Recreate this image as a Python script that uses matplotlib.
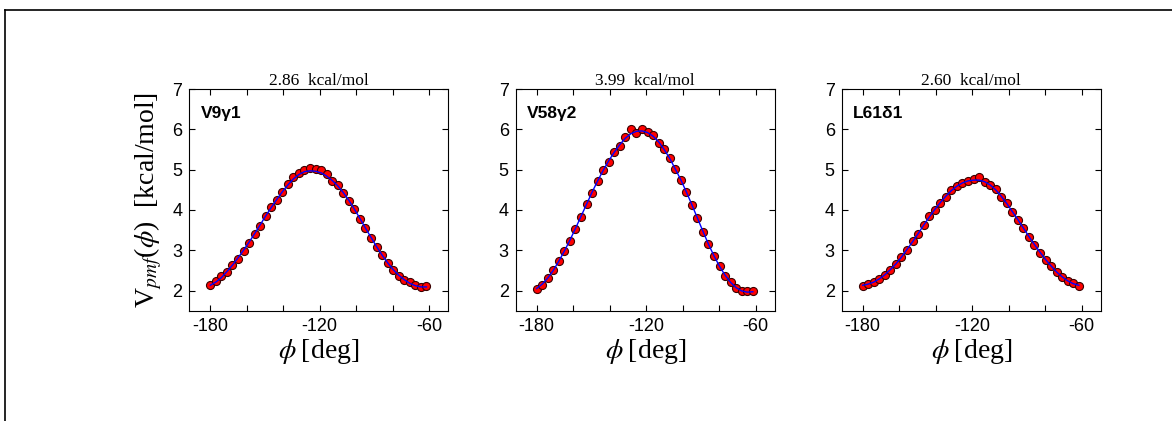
import numpy as np
import matplotlib.pyplot as plt
from matplotlib.lines import Line2D
from matplotlib.ticker import MultipleLocator, FixedLocator

plt.rcParams['mathtext.fontset'] = 'stix'
plt.rcParams['axes.unicode_minus'] = False

# angoli del diedro (40 punti tra -180 e circa -61.5 gradi)
phi = np.linspace(-180, -61.5, 40)

etichette = ['V9\u03b31', 'V58\u03b32', 'L61\u03b41']
barriere = ['2.86', '3.99', '2.60']

# PMF calcolata (punti rossi)
pmf_v9 = [2.14, 2.24, 2.35, 2.46, 2.64, 2.79, 2.99, 3.19, 3.41, 3.61,
          3.85, 4.07, 4.25, 4.45, 4.64, 4.81, 4.91, 4.98, 5.03, 5.01,
          4.98, 4.89, 4.72, 4.62, 4.43, 4.23, 4.02, 3.77, 3.54, 3.31,
          3.09, 2.87, 2.68, 2.51, 2.37, 2.27, 2.20, 2.14, 2.09, 2.11]
pmf_v58 = [2.03, 2.14, 2.31, 2.50, 2.74, 2.98, 3.24, 3.52, 3.82, 4.15,
           4.43, 4.72, 4.98, 5.20, 5.43, 5.59, 5.80, 6.00, 5.92, 6.02,
           5.94, 5.85, 5.67, 5.50, 5.30, 5.02, 4.74, 4.44, 4.12, 3.79,
           3.46, 3.15, 2.86, 2.61, 2.37, 2.20, 2.07, 1.99, 1.98, 1.99]
pmf_l61 = [2.12, 2.16, 2.21, 2.29, 2.39, 2.51, 2.65, 2.83, 3.01, 3.22,
           3.41, 3.62, 3.84, 4.00, 4.18, 4.33, 4.50, 4.60, 4.68, 4.73,
           4.76, 4.81, 4.70, 4.62, 4.52, 4.33, 4.17, 3.96, 3.75, 3.55,
           3.34, 3.13, 2.94, 2.76, 2.60, 2.45, 2.33, 2.24, 2.18, 2.12]

# curve di fit (linea blu)
fit_v9 = [2.13, 2.21, 2.32, 2.47, 2.63, 2.81, 3.00, 3.20, 3.41, 3.63,
          3.85, 4.06, 4.26, 4.45, 4.62, 4.77, 4.88, 4.95, 4.97, 4.96,
          4.92, 4.84, 4.73, 4.60, 4.43, 4.24, 4.02, 3.79, 3.55, 3.32,
          3.09, 2.88, 2.69, 2.52, 2.38, 2.27, 2.18, 2.12, 2.09, 2.09]
fit_v58 = [2.05, 2.16, 2.31, 2.50, 2.73, 2.98, 3.25, 3.54, 3.84, 4.14,
           4.44, 4.72, 4.98, 5.22, 5.43, 5.62, 5.78, 5.89, 5.95, 5.96,
           5.92, 5.83, 5.69, 5.50, 5.28, 5.02, 4.75, 4.45, 4.13, 3.80,
           3.47, 3.15, 2.86, 2.60, 2.38, 2.20, 2.07, 1.99, 1.96, 1.97]
fit_l61 = [2.13, 2.16, 2.21, 2.29, 2.39, 2.52, 2.66, 2.83, 3.02, 3.21,
           3.41, 3.62, 3.82, 4.01, 4.18, 4.34, 4.48, 4.59, 4.67, 4.72,
           4.74, 4.74, 4.70, 4.62, 4.50, 4.34, 4.16, 3.96, 3.76, 3.55,
           3.34, 3.14, 2.95, 2.77, 2.61, 2.46, 2.34, 2.24, 2.17, 2.13]

punti = [pmf_v9, pmf_v58, pmf_l61]
fit = [fit_v9, fit_v58, fit_l61]

sans = ['Liberation Sans', 'DejaVu Sans']
serif = ['Liberation Serif', 'DejaVu Serif']

fig = plt.figure(figsize=(11.72, 4.21), dpi=100)

# cornice parziale (solo lato alto e sinistro)
fig.add_artist(Line2D([5 / 1172, 1], [1 - 10 / 421, 1 - 10 / 421], color='black', lw=1.2))
fig.add_artist(Line2D([5 / 1172, 5 / 1172], [0, 1 - 10 / 421], color='black', lw=1.2))

sinistre = [189.3, 515.7, 841.7]
for i in range(3):
    ax = fig.add_axes([sinistre[i] / 1172, 110.3 / 421, 259 / 1172, 221.7 / 421])
    ax.plot(phi, punti[i], 'o', ms=5.8, mfc='red', mec='#3a0000', mew=0.8, zorder=2)
    ax.plot(phi, fit[i], '-', color='blue', lw=1.0, zorder=3)

    ax.set_xlim(-191.5, -49.5)
    ax.set_ylim(1.5, 7)
    ax.xaxis.set_major_locator(FixedLocator([-180, -120, -60]))
    ax.xaxis.set_minor_locator(FixedLocator([-160, -140, -100, -80]))
    ax.yaxis.set_major_locator(MultipleLocator(1))
    ax.tick_params(which='both', direction='in', top=True, right=True,
                   length=4, width=0.8, labelsize=13, pad=5)
    for lab in ax.get_xticklabels() + ax.get_yticklabels():
        lab.set_family(sans)
    for s in ax.spines.values():
        s.set_linewidth(0.8)

    ax.set_title(f'{barriere[i]}  kcal/mol', family=serif, fontsize=12.5, pad=3)
    ax.set_xlabel(r'$\phi\;$[deg]', family=serif, fontsize=20, labelpad=2)
    ax.text(0.045, 0.89, etichette[i], transform=ax.transAxes, family=sans,
            fontweight='bold', fontsize=12.5, va='center', ha='left')
    if i == 0:
        ax.set_ylabel(r'V$_{pmf}$($\phi$)  [kcal/mol]', family=serif, fontsize=20, labelpad=6)

fig.savefig('out.png', dpi=100)
